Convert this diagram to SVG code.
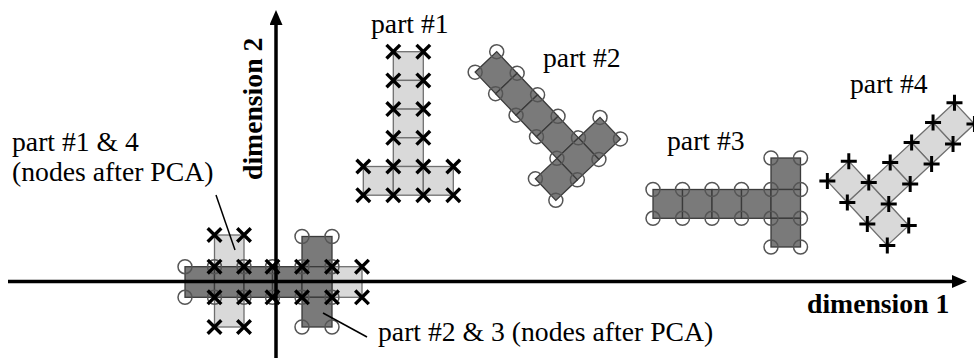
<svg xmlns="http://www.w3.org/2000/svg" width="974" height="358" viewBox="0 0 974 358">
<style>
  .lbl{font-family:"Liberation Serif","Times New Roman",serif;font-size:27.7px;fill:#000}
  .axl{font-weight:bold}
  .lt{fill:#d9d9d9;stroke:#6f6f6f;stroke-width:1.3}
  .dk{fill:#7a7a7a;stroke:#3a3a3a;stroke-width:1.3}
  .ax{stroke:#000;stroke-width:3.5;fill:none}
  .lead{stroke:#000;stroke-width:1.5;fill:none}
</style>
<defs>
  <path id="xm" d="M-6.8,-6.8L6.8,6.8M-6.8,6.8L6.8,-6.8" stroke="#000" stroke-width="3.4" fill="none"/>
  <path id="pm" d="M-8,0H8M0,-8V8" stroke="#000" stroke-width="3" fill="none"/>
  <circle id="om" r="7" fill="none" stroke="#555" stroke-width="1.5"/>
  <marker id="head" markerWidth="15" markerHeight="13" viewBox="0 0 15 13" refX="3" refY="6.5" orient="auto" markerUnits="userSpaceOnUse">
    <path d="M0,0L15,6.5L0,13Z" fill="#000"/>
  </marker>
</defs>

<!-- part #1: upright T, cross-marked nodes -->
<g id="part1">
  <rect class="lt" x="393.3" y="51.7" width="30" height="28.7"/>
  <rect class="lt" x="393.3" y="80.4" width="30" height="28.7"/>
  <rect class="lt" x="393.3" y="109.1" width="30" height="28.7"/>
  <rect class="lt" x="393.3" y="137.8" width="30" height="28.7"/>
  <rect class="lt" x="363.3" y="166.5" width="30" height="28.7"/>
  <rect class="lt" x="393.3" y="166.5" width="30" height="28.7"/>
  <rect class="lt" x="423.3" y="166.5" width="30" height="28.7"/>
  <use href="#xm" x="393.3" y="51.7"/><use href="#xm" x="423.3" y="51.7"/>
  <use href="#xm" x="393.3" y="80.4"/><use href="#xm" x="423.3" y="80.4"/>
  <use href="#xm" x="393.3" y="109.1"/><use href="#xm" x="423.3" y="109.1"/>
  <use href="#xm" x="393.3" y="137.8"/><use href="#xm" x="423.3" y="137.8"/>
  <use href="#xm" x="363.3" y="166.5"/><use href="#xm" x="393.3" y="166.5"/>
  <use href="#xm" x="423.3" y="166.5"/><use href="#xm" x="453.3" y="166.5"/>
  <use href="#xm" x="363.3" y="195.2"/><use href="#xm" x="393.3" y="195.2"/>
  <use href="#xm" x="423.3" y="195.2"/><use href="#xm" x="453.3" y="195.2"/>
  <text class="lbl" x="371" y="33">part #1</text>
</g>

<!-- part #2: tilted T, circle-marked nodes -->
<g id="part2">
  <g transform="translate(496.7,51.7) rotate(46.5)">
    <rect class="dk" x="0" y="0" width="29.7" height="29.7"/>
    <rect class="dk" x="29.7" y="0" width="29.7" height="29.7"/>
    <rect class="dk" x="59.4" y="0" width="29.7" height="29.7"/>
    <rect class="dk" x="89.1" y="0" width="29.7" height="29.7"/>
    <rect class="dk" x="118.8" y="-29.7" width="29.7" height="29.7"/>
    <rect class="dk" x="118.8" y="0" width="29.7" height="29.7"/>
    <rect class="dk" x="118.8" y="29.7" width="29.7" height="29.7"/>
    <use href="#om" x="0" y="0"/><use href="#om" x="0" y="29.7"/>
    <use href="#om" x="29.7" y="0"/><use href="#om" x="29.7" y="29.7"/>
    <use href="#om" x="59.4" y="0"/><use href="#om" x="59.4" y="29.7"/>
    <use href="#om" x="89.1" y="0"/><use href="#om" x="89.1" y="29.7"/>
    <use href="#om" x="118.8" y="-29.7"/><use href="#om" x="148.5" y="-29.7"/>
    <use href="#om" x="118.8" y="0"/><use href="#om" x="148.5" y="0"/>
    <use href="#om" x="118.8" y="29.7"/><use href="#om" x="148.5" y="29.7"/>
    <use href="#om" x="118.8" y="59.4"/><use href="#om" x="148.5" y="59.4"/>
  </g>
  <text class="lbl" x="543" y="67">part #2</text>
</g>

<!-- part #3: sideways T, circle-marked nodes -->
<g id="part3">
  <rect class="dk" x="653" y="189.5" width="29.5" height="28.8"/>
  <rect class="dk" x="682.5" y="189.5" width="29.5" height="28.8"/>
  <rect class="dk" x="712" y="189.5" width="29.5" height="28.8"/>
  <rect class="dk" x="741.5" y="189.5" width="29.5" height="28.8"/>
  <rect class="dk" x="771" y="158" width="29.5" height="31.5"/>
  <rect class="dk" x="771" y="189.5" width="29.5" height="28.8"/>
  <rect class="dk" x="771" y="218.3" width="29.5" height="28.7"/>
  <use href="#om" x="653" y="189.5"/><use href="#om" x="653" y="218.3"/>
  <use href="#om" x="682.5" y="189.5"/><use href="#om" x="682.5" y="218.3"/>
  <use href="#om" x="712" y="189.5"/><use href="#om" x="712" y="218.3"/>
  <use href="#om" x="741.5" y="189.5"/><use href="#om" x="741.5" y="218.3"/>
  <use href="#om" x="771" y="189.5"/><use href="#om" x="771" y="218.3"/>
  <use href="#om" x="771" y="158"/><use href="#om" x="800.5" y="158"/>
  <use href="#om" x="800.5" y="189.5"/><use href="#om" x="800.5" y="218.3"/>
  <use href="#om" x="771" y="247"/><use href="#om" x="800.5" y="247"/>
  <text class="lbl" x="667" y="150">part #3</text>
</g>

<!-- part #4: tilted T, plus-marked nodes -->
<g id="part4">
  <g transform="translate(934.5,81.2) rotate(47)">
    <rect class="lt" x="29.3" y="0" width="29.3" height="29.3"/>
    <rect class="lt" x="29.3" y="29.3" width="29.3" height="29.3"/>
    <rect class="lt" x="29.3" y="58.6" width="29.3" height="29.3"/>
    <rect class="lt" x="29.3" y="87.9" width="29.3" height="29.3"/>
    <rect class="lt" x="0" y="117.2" width="29.3" height="29.3"/>
    <rect class="lt" x="29.3" y="117.2" width="29.3" height="29.3"/>
    <rect class="lt" x="58.6" y="117.2" width="29.3" height="29.3"/>
    <use href="#pm" transform="translate(29.3,0) rotate(-47)"/>
    <use href="#pm" transform="translate(58.6,0) rotate(-47)"/>
    <use href="#pm" transform="translate(29.3,29.3) rotate(-47)"/>
    <use href="#pm" transform="translate(58.6,29.3) rotate(-47)"/>
    <use href="#pm" transform="translate(29.3,58.6) rotate(-47)"/>
    <use href="#pm" transform="translate(58.6,58.6) rotate(-47)"/>
    <use href="#pm" transform="translate(29.3,87.9) rotate(-47)"/>
    <use href="#pm" transform="translate(58.6,87.9) rotate(-47)"/>
    <use href="#pm" transform="translate(0,117.2) rotate(-47)"/>
    <use href="#pm" transform="translate(29.3,117.2) rotate(-47)"/>
    <use href="#pm" transform="translate(58.6,117.2) rotate(-47)"/>
    <use href="#pm" transform="translate(87.9,117.2) rotate(-47)"/>
    <use href="#pm" transform="translate(0,146.5) rotate(-47)"/>
    <use href="#pm" transform="translate(29.3,146.5) rotate(-47)"/>
    <use href="#pm" transform="translate(58.6,146.5) rotate(-47)"/>
    <use href="#pm" transform="translate(87.9,146.5) rotate(-47)"/>
  </g>
  <text class="lbl" x="850" y="93">part #4</text>
</g>

<!-- parts #1 and #4 after PCA (light, crosses) -->
<g id="pca14">
  <rect class="lt" x="214.5" y="235" width="29.5" height="31.7"/>
  <rect class="lt" x="214.5" y="266.7" width="29.5" height="30.6"/>
  <rect class="lt" x="214.5" y="297.3" width="29.5" height="29.7"/>
  <rect class="lt" x="244" y="266.7" width="28.5" height="30.6"/>
  <rect class="lt" x="272.5" y="266.7" width="29.5" height="30.6"/>
  <rect class="lt" x="302" y="266.7" width="30" height="30.6"/>
  <rect class="lt" x="332" y="266.7" width="30" height="30.6"/>
</g>

<!-- parts #2 and #3 after PCA (dark, circles) -->
<g id="pca23">
  <rect class="dk" x="185" y="266.7" width="29.5" height="30.6"/>
  <rect class="dk" x="214.5" y="266.7" width="29.5" height="30.6"/>
  <rect class="dk" x="244" y="266.7" width="28.5" height="30.6"/>
  <rect class="dk" x="272.5" y="266.7" width="29.5" height="30.6"/>
  <rect class="dk" x="302" y="236.5" width="30" height="30.2"/>
  <rect class="dk" x="302" y="266.7" width="30" height="30.6"/>
  <rect class="dk" x="302" y="297.3" width="30" height="29.7"/>
  <use href="#om" x="185" y="266.7"/><use href="#om" x="185" y="297.3"/>
  <use href="#om" x="214.5" y="266.7"/><use href="#om" x="214.5" y="297.3"/>
  <use href="#om" x="244" y="266.7"/><use href="#om" x="244" y="297.3"/>
  <use href="#om" x="272.5" y="266.7"/><use href="#om" x="272.5" y="297.3"/>
  <use href="#om" x="302" y="266.7"/><use href="#om" x="302" y="297.3"/>
  <use href="#om" x="332" y="266.7"/><use href="#om" x="332" y="297.3"/>
  <use href="#om" x="302" y="236.5"/><use href="#om" x="332" y="236.5"/>
  <use href="#om" x="302" y="327"/><use href="#om" x="332" y="327"/>
</g>

<!-- cross marks of the light PCA shape, drawn over both shapes -->
<g id="pca14-nodes">
  <use href="#xm" x="214.5" y="235"/><use href="#xm" x="244" y="235"/>
  <use href="#xm" x="214.5" y="266.7"/><use href="#xm" x="244" y="266.7"/>
  <use href="#xm" x="214.5" y="297.3"/><use href="#xm" x="244" y="297.3"/>
  <use href="#xm" x="214.5" y="327"/><use href="#xm" x="244" y="327"/>
  <use href="#xm" x="272.5" y="266.7"/><use href="#xm" x="272.5" y="297.3"/>
  <use href="#xm" x="302" y="266.7"/><use href="#xm" x="302" y="297.3"/>
  <use href="#xm" x="332" y="266.7"/><use href="#xm" x="332" y="297.3"/>
  <use href="#xm" x="362" y="266.7"/><use href="#xm" x="362" y="297.3"/>
</g>

<!-- axes -->
<g id="axes">
  <line class="ax" x1="8" y1="281.5" x2="955" y2="281.5" marker-end="url(#head)"/>
  <line class="ax" x1="276" y1="358" x2="276" y2="22" marker-end="url(#head)"/>
  <text class="lbl axl" x="807" y="313">dimension 1</text>
  <text class="lbl axl" transform="translate(262,180) rotate(-90)">dimension 2</text>
</g>

<!-- leader lines -->
<g id="connectors">
  <line class="lead" x1="216" y1="195" x2="235" y2="250"/>
  <line class="lead" x1="323" y1="313" x2="367" y2="337"/>
</g>

<g id="labels">
  <text class="lbl" x="12" y="151">part #1 &amp; 4</text>
  <text class="lbl" x="12" y="181">(nodes after PCA)</text>
  <text class="lbl" x="378" y="341">part #2 &amp; 3 (nodes after PCA)</text>
</g>
</svg>
